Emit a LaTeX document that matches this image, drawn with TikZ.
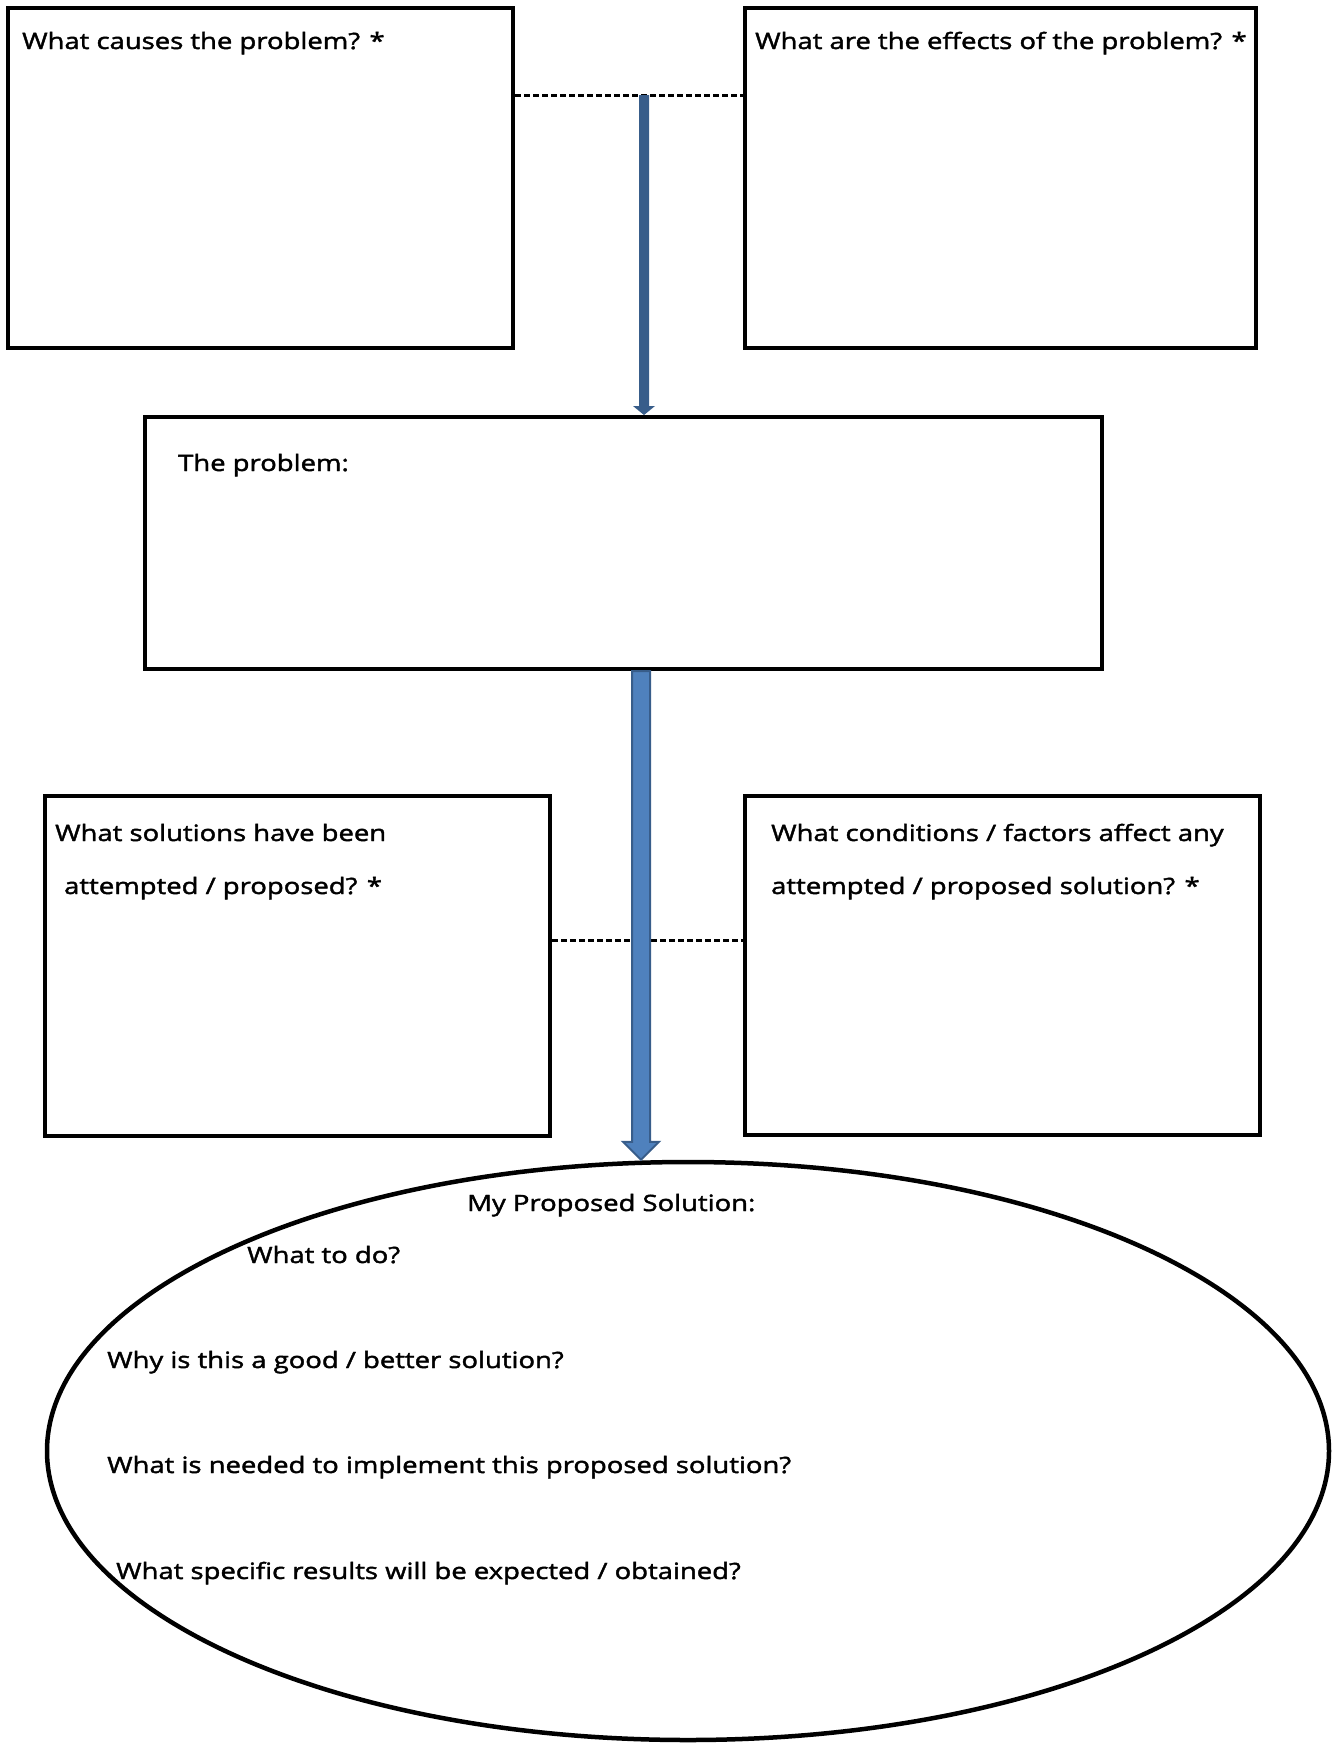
\documentclass[tikz,border=0pt]{standalone}
\usepackage{fontspec}
\setmainfont{Open Sans}[FakeStretch=1.22,FakeBold=1.8]
\usetikzlibrary{shapes.geometric,calc}
\definecolor{arrowdark}{HTML}{385D8A}
\definecolor{arrowfill}{HTML}{4F81BD}
\begin{document}
\begin{tikzpicture}[x=1pt,y=-1pt,
  box/.style={draw=black,line width=4pt,rectangle,anchor=north west,inner sep=0pt},
  lbl/.style={anchor=base west,inner sep=0pt,font=\fontsize{22.5}{27}\selectfont},
  dashline/.style={draw=black,line width=3pt,dash pattern=on 6pt off 3pt}]
\useasboundingbox (0,0) rectangle (1335,1743);
\fill[white] (0,0) rectangle (1335,1743);
% boxes
\node[box,minimum width=505pt,minimum height=340pt] (causes) at (6,6) {};
\node[box,minimum width=511pt,minimum height=340pt] (effects) at (743,6) {};
\node[box,minimum width=957pt,minimum height=252pt] (problem) at (143,415) {};
\node[box,minimum width=505pt,minimum height=340pt] (attempted) at (43,794) {};
\node[box,minimum width=515pt,minimum height=339pt] (conditions) at (743,794) {};
\node[draw=black,line width=4.5pt,ellipse,inner sep=0pt,minimum width=1282pt,minimum height=578pt] (solution) at (688,1451) {};
% labels
\node[lbl] (t1) at (22,49) {What causes the problem? *};
\node[lbl] (t2) at (755,49) {What are the effects of the problem? *};
\node[lbl] (t3) at (178,471) {The problem:};
\node[lbl] (t4) at (55,841) {What solutions have been};
\node[lbl] (t5) at (64,894) {attempted / proposed? *};
\node[lbl] (t6) at (771,841) {What conditions / factors affect any};
\node[lbl] (t7) at (771,894) {attempted / proposed solution? *};
\node[lbl] (t8) at (467,1211) {My Proposed Solution:};
\node[lbl] (t9) at (247,1263) {What to do?};
\node[lbl] (t10) at (107,1368) {Why is this a good / better solution?};
\node[lbl] (t11) at (107,1473) {What is needed to implement this proposed solution?};
\node[lbl] (t12) at (116,1579) {What specific results will be expected / obtained?};
% dashed connectors
\coordinate (d1) at (630,95);
\coordinate (d2) at (630,940);
\draw[dashline] (causes.east |- d1) -- (effects.west |- d1);
\draw[dashline] (attempted.east |- d2) -- (conditions.west |- d2);
% arrow 1
\coordinate (a1) at (644,95);
\path let \p1=(a1), \p2=(problem.north) in
  coordinate (a1s) at (\x1,\y2);
\fill[arrowdark] ($(a1)+(-5,0)$) -- ($(a1s)+(-5,-9)$) -- ($(a1s)+(-11,-9)$) -- (a1s) -- ($(a1s)+(11,-9)$) -- ($(a1s)+(5,-9)$) -- ($(a1)+(5,0)$) -- cycle;
% arrow 2
\path let \p1=(problem.south), \p2=(solution.north) in
  coordinate (a2) at (641,\y1) coordinate (a2e) at (641,\y2);
\filldraw[fill=arrowfill,draw=arrowdark,line width=2pt,line join=miter]
  ($(a2)+(-9,0)$) -- ($(a2e)+(-9,-18)$) -- ($(a2e)+(-18,-18)$) -- (a2e) -- ($(a2e)+(18,-18)$) -- ($(a2e)+(9,-18)$) -- ($(a2)+(9,0)$) -- cycle;
\end{tikzpicture}
\end{document}
